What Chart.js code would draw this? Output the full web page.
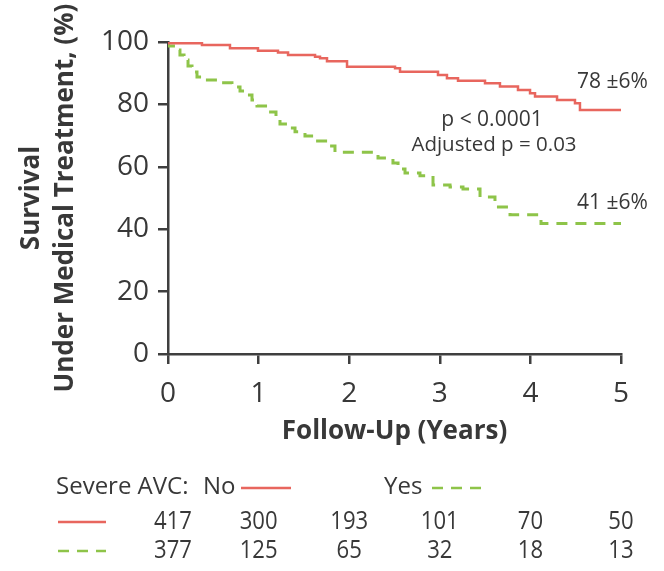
<!DOCTYPE html>
<html>
<head>
<meta charset="utf-8">
<script src="https://cdn.jsdelivr.net/npm/chart.js@4"></script>
<style>
  html, body { margin: 0; padding: 0; background: #ffffff; }
  #wrap { width: 664px; height: 571px; position: relative; }
</style>
</head>
<body>
<div id="wrap"><canvas id="c" width="664" height="571"></canvas></div>
<script>
// ---- data ----
const xTicks = [0, 1, 2, 3, 4, 5];
const yTicks = [0, 20, 40, 60, 80, 100];
// Severe AVC: No  (time in years where survival drops, survival % after the drop)
const noTimes    = [0, 0.375, 0.684, 0.993, 1.214, 1.325, 1.623, 1.678, 1.755, 1.976, 2.506, 2.561, 2.980, 3.079, 3.201, 3.499, 3.664, 3.863, 3.996, 4.051, 4.294, 4.492, 4.547, 4.823, 5.02];
const noSurvival = [100, 99.6, 99.0, 98.0, 97.2, 96.6, 95.8, 95.3, 94.8, 93.8, 92.1, 91.6, 90.5, 89.4, 88.4, 87.6, 86.8, 85.7, 84.6, 83.6, 82.5, 81.4, 80.4, 78.2, 78.2];
// Severe AVC: Yes
const yesTimes    = [0, 0.088, 0.132, 0.177, 0.221, 0.265, 0.320, 0.386, 0.596, 0.706, 0.795, 0.861, 0.927, 0.982, 1.104, 1.192, 1.236, 1.313, 1.402, 1.512, 1.634, 1.766, 1.843, 2.318, 2.483, 2.539, 2.616, 2.781, 2.925, 3.113, 3.256, 3.444, 3.609, 3.775, 4.117, 4.934, 5.01];
const yesSurvival = [100, 98.7, 97.4, 95.8, 94.2, 92.3, 90.4, 88.8, 87.8, 86.9, 85.6, 84.3, 83.0, 81.4, 79.5, 77.6, 75.6, 73.7, 72.4, 71.2, 69.9, 68.3, 66.7, 64.7, 62.8, 61.2, 59.3, 58.0, 57.1, 54.2, 53.5, 52.9, 50.3, 47.1, 44.6, 41.8, 41.8];
// numbers at risk
const riskNo  = [417, 300, 193, 101, 70, 50];
const riskYes = [377, 125, 65, 32, 18, 13];
const seriesLabels = ['No', 'Yes'];
const endLabels = ['78 ±6%', '41 ±6%'];

const RED = '#e8665e';
const GREEN = '#8ec449';
const TXT = '#383838';
const AXIS = '#3f3f3f';
const FONT = '"Open Sans", "Noto Sans", sans-serif';

function pts(xs, ys) { return xs.map((x, i) => ({ x: x, y: ys[i] })); }

const overlay = {
  id: 'overlay',
  afterDraw(chart) {
    const ctx = chart.ctx;
    const xs = chart.scales.x;
    ctx.save();
    ctx.fillStyle = TXT;
    ctx.textBaseline = 'middle';
    // annotations
    ctx.font = '21px ' + FONT;
    ctx.textAlign = 'left';
    ctx.fillText(endLabels[0], 577, 82);
    ctx.fillText(endLabels[1], 577, 203);
    ctx.textAlign = 'center';
    ctx.fillText('p < 0.0001', 492, 120);
    ctx.font = '20.5px ' + FONT;
    ctx.fillText('Adjusted p = 0.03', 494, 145);

    // legend row
    ctx.font = '24px ' + FONT;
    ctx.textAlign = 'left';
    ctx.fillText('Severe AVC:', 56, 487);
    ctx.fillText(seriesLabels[0], 203, 487);
    ctx.fillText(seriesLabels[1], 384, 487);
    ctx.lineWidth = 2.5;
    ctx.strokeStyle = RED;
    ctx.setLineDash([]);
    ctx.beginPath(); ctx.moveTo(241, 488); ctx.lineTo(291, 488); ctx.stroke();
    ctx.beginPath(); ctx.moveTo(58, 522); ctx.lineTo(106, 522); ctx.stroke();
    ctx.strokeStyle = GREEN;
    ctx.setLineDash([11, 8]);
    ctx.beginPath(); ctx.moveTo(432, 488); ctx.lineTo(487, 488); ctx.stroke();
    ctx.beginPath(); ctx.moveTo(58, 551); ctx.lineTo(106, 551); ctx.stroke();
    ctx.setLineDash([]);

    // numbers at risk (condensed digits)
    ctx.font = '26px ' + FONT;
    ctx.textAlign = 'center';
    const sx = 0.85;
    xTicks.forEach((t, i) => {
      const px = xs.getPixelForValue(t) + (i === 0 ? 5 : 0);
      ctx.save();
      ctx.translate(px, 0);
      ctx.scale(sx, 1);
      ctx.fillText(String(riskNo[i]), 0, 522);
      ctx.fillText(String(riskYes[i]), 0, 551);
      ctx.restore();
    });
    ctx.restore();
  }
};

new Chart(document.getElementById('c'), {
  type: 'line',
  data: {
    datasets: [
      { label: seriesLabels[0], data: pts(noTimes, noSurvival), borderColor: RED, borderWidth: 2.5,
        stepped: 'after', pointRadius: 0, fill: false },
      { label: seriesLabels[1], data: pts(yesTimes, yesSurvival), borderColor: GREEN, borderWidth: 3,
        borderDash: [11, 8], stepped: 'after', pointRadius: 0, fill: false }
    ]
  },
  options: {
    responsive: false,
    animation: false,
    devicePixelRatio: 1,
    layout: { padding: { top: 42, right: 43, left: 0, bottom: 0 } },
    plugins: { legend: { display: false }, tooltip: { enabled: false } },
    scales: {
      x: {
        type: 'linear', min: 0, max: 5,
        afterBuildTicks(s) { s.ticks = xTicks.map(v => ({ value: v })); },
        afterFit(s) { s.height = 217; },
        grid: { drawOnChartArea: false, drawTicks: true, tickLength: 10, color: AXIS, lineWidth: 2.5 },
        border: { display: true, color: AXIS, width: 2.5 },
        ticks: { color: TXT, font: { family: FONT, size: 28, weight: 500 }, padding: 13, maxRotation: 0 },
        title: { display: true, text: 'Follow-Up (Years)', color: TXT,
                 font: { family: FONT, size: 26, weight: 'bold' }, padding: { top: 0, bottom: 124 } }
      },
      y: {
        min: 0, max: 100,
        afterBuildTicks(s) { s.ticks = yTicks.map(v => ({ value: v })); },
        afterFit(s) { s.width = 168; },
        grid: { drawOnChartArea: false, drawTicks: true, tickLength: 10, color: AXIS, lineWidth: 2.5 },
        border: { display: true, color: AXIS, width: 2.5 },
        ticks: { color: TXT, font: { family: FONT, size: 28, weight: 500 }, padding: 9 },
        title: { display: true, text: ['Survival', 'Under Medical Treatment, (%)'], color: TXT,
                 font: { family: FONT, size: 26, weight: 'bold', lineHeight: 1.31 }, padding: { top: 15, bottom: 0 } }
      }
    }
  },
  plugins: [overlay]
});
</script>
</body>
</html>
